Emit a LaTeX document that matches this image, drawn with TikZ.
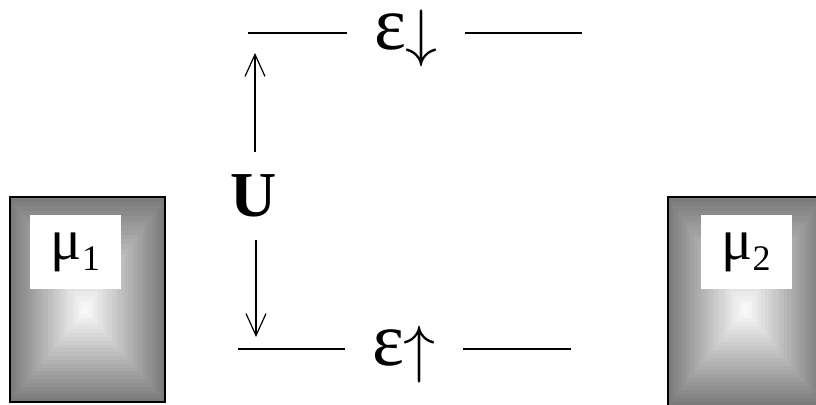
\RequirePackage{fix-cm}
\documentclass[tikz,border=0pt]{standalone}
\usepackage{fontspec}
\setmainfont{Liberation Serif}
\usetikzlibrary{arrows.meta}
\newcommand\ringbox[6]{%
  \foreach \i in {0,...,23}{%
    \pgfmathsetmacro\t{\i/24}%
    \pgfmathsetmacro\c{52*(1-\t)}%
    \fill[black!\c] ({#1+\t*(#5-#1)},{#2+\t*(#6-#2)}) rectangle ({#3+\t*(#5-#3)},{#4+\t*(#6-#4)});
  }%
  \draw[line width=1.3pt] (#1,#2) rectangle (#3,#4);
}
\begin{document}
\begin{tikzpicture}[x=1pt,y=-1pt,
  level/.style={line width=1.4pt},
  gaparrow/.style={-{Straight Barb[length=22pt,width=20pt,line width=1.2pt]}, line width=1.2pt},
  eps/.style={inner xsep=27pt, inner ysep=0pt, anchor=base},
  tag/.style={fill=white, minimum width=91pt, minimum height=74pt, inner sep=0pt},
]
\useasboundingbox (0,0) rectangle (816,404);
\clip (0,0) rectangle (816,404);
\fill[white] (0,0) rectangle (816,404);
% reservoirs
\ringbox{10}{197}{165}{402}{85}{310}
\ringbox{668}{197}{823}{406}{745}{310}
\node[tag] (m1) at (75.5,252) {\fontsize{58}{60}\selectfont μ\raisebox{-11pt}{\fontsize{36}{38}\selectfont 1}};
\node[tag] (m2) at (746,252) {\fontsize{58}{60}\selectfont μ\raisebox{-11pt}{\fontsize{36}{38}\selectfont 2}};
% U with arrows
\node[font=\bfseries\fontsize{64}{66}\selectfont, inner xsep=0pt, inner ysep=23pt] (U) at (254,196) {U};
\coordinate (uptip) at (255,53);
\coordinate (dntip) at (256,337);
\draw[gaparrow] (U.north -| uptip) -- (uptip);
\draw[gaparrow] (U.south -| dntip) -- (dntip);
% levels
\node[eps] (ed) at (406,50) {\fontsize{76}{78}\selectfont ε\fontsize{64}{66}\selectfont\raisebox{-5pt}{$\downarrow$}};
\node[eps] (eu) at (404,365) {\fontsize{76}{78}\selectfont ε\fontsize{64}{66}\selectfont\raisebox{-5pt}{$\uparrow$}};
\coordinate (tl) at (248,33);
\coordinate (tr) at (582,33);
\coordinate (bl) at (238,349);
\coordinate (br) at (571,349);
\draw[level] (tl) -- (tl -| ed.west);
\draw[level] (tr -| ed.east) -- (tr);
\draw[level] (bl) -- (bl -| eu.west);
\draw[level] (br -| eu.east) -- (br);
\end{tikzpicture}
\end{document}
